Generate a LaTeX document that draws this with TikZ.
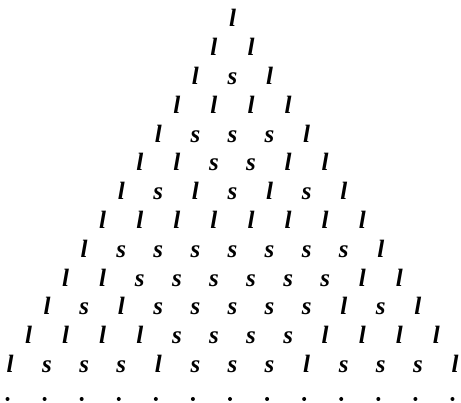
\documentclass[tikz,border=0pt]{standalone}
\usepackage{fontspec}
\setmainfont{Liberation Serif}
\begin{document}
\begin{tikzpicture}[x=1pt,y=1pt,
  letter/.style={inner sep=0pt, anchor=base, font=\fontsize{25}{29}\selectfont\bfseries\itshape},
  dotmark/.style={circle, fill=black, inner sep=0pt, minimum size=4pt}]
\useasboundingbox (0,0) rectangle (461,403);
\foreach \row [count=\r from 0] in {{l},{l,l},{l,s,l},{l,l,l,l},{l,s,s,s,l},{l,l,s,s,l,l},{l,s,l,s,l,s,l},{l,l,l,l,l,l,l,l},{l,s,s,s,s,s,s,s,l},{l,l,s,s,s,s,s,s,l,l},{l,s,l,s,s,s,s,s,l,s,l},{l,l,l,l,s,s,s,s,l,l,l,l},{l,s,s,s,l,s,s,s,l,s,s,s,l}}{
  \foreach \c [count=\k from 0] in \row {
    \node[letter] (n-\r-\k) at ({232.5+(\k-\r/2)*37.08}, {376-28.8*\r}) {\c};
  }
}
\foreach \k in {0,...,12}{
  \node[dotmark] (d-\k) at ({230+(\k-6)*37.08}, 4) {};
}
\end{tikzpicture}
\end{document}
